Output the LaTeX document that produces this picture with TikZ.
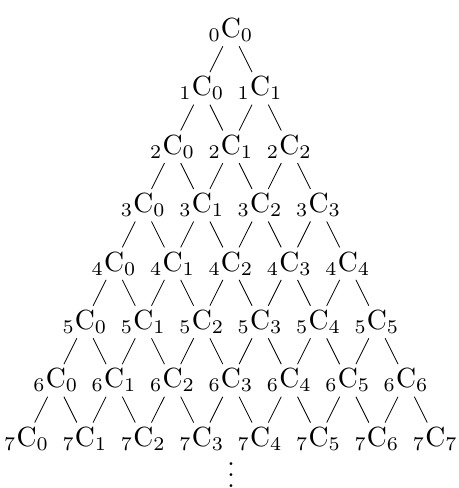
\documentclass[tikz,border=0pt]{standalone}
\usepackage{amsmath,amssymb}
\usepackage{tikz}
\usetikzlibrary{positioning}

\begin{document}
\begin{tikzpicture}[
      coef/.style={inner sep=1.5pt,scale=1.35},
      link/.style={thin,black}]
    \useasboundingbox (-3.955,0.514) rectangle (3.904,-7.842);
    % rows of the triangle
    \foreach \n in {0,...,7} {
      \foreach \k in {0,...,\n} {
        \node[coef] (c\n-\k) at ({\k-\n/2},-\n) {${}_{\n}\mathrm{C}_{\k}$};
      }
    }
    % each entry joined to the two below it
    \foreach \n in {0,...,6} {
      \foreach \k in {0,...,\n} {
        \pgfmathtruncatemacro\m{\n+1}
        \pgfmathtruncatemacro\j{\k+1}
        \draw[link] (c\n-\k) -- (c\m-\k);
        \draw[link] (c\n-\k) -- (c\m-\j);
      }
    }
    \node[scale=1.3,inner sep=0pt,anchor=base] (dots) at (0,-7.825) {$\vdots$};
  \end{tikzpicture}
\end{document}
